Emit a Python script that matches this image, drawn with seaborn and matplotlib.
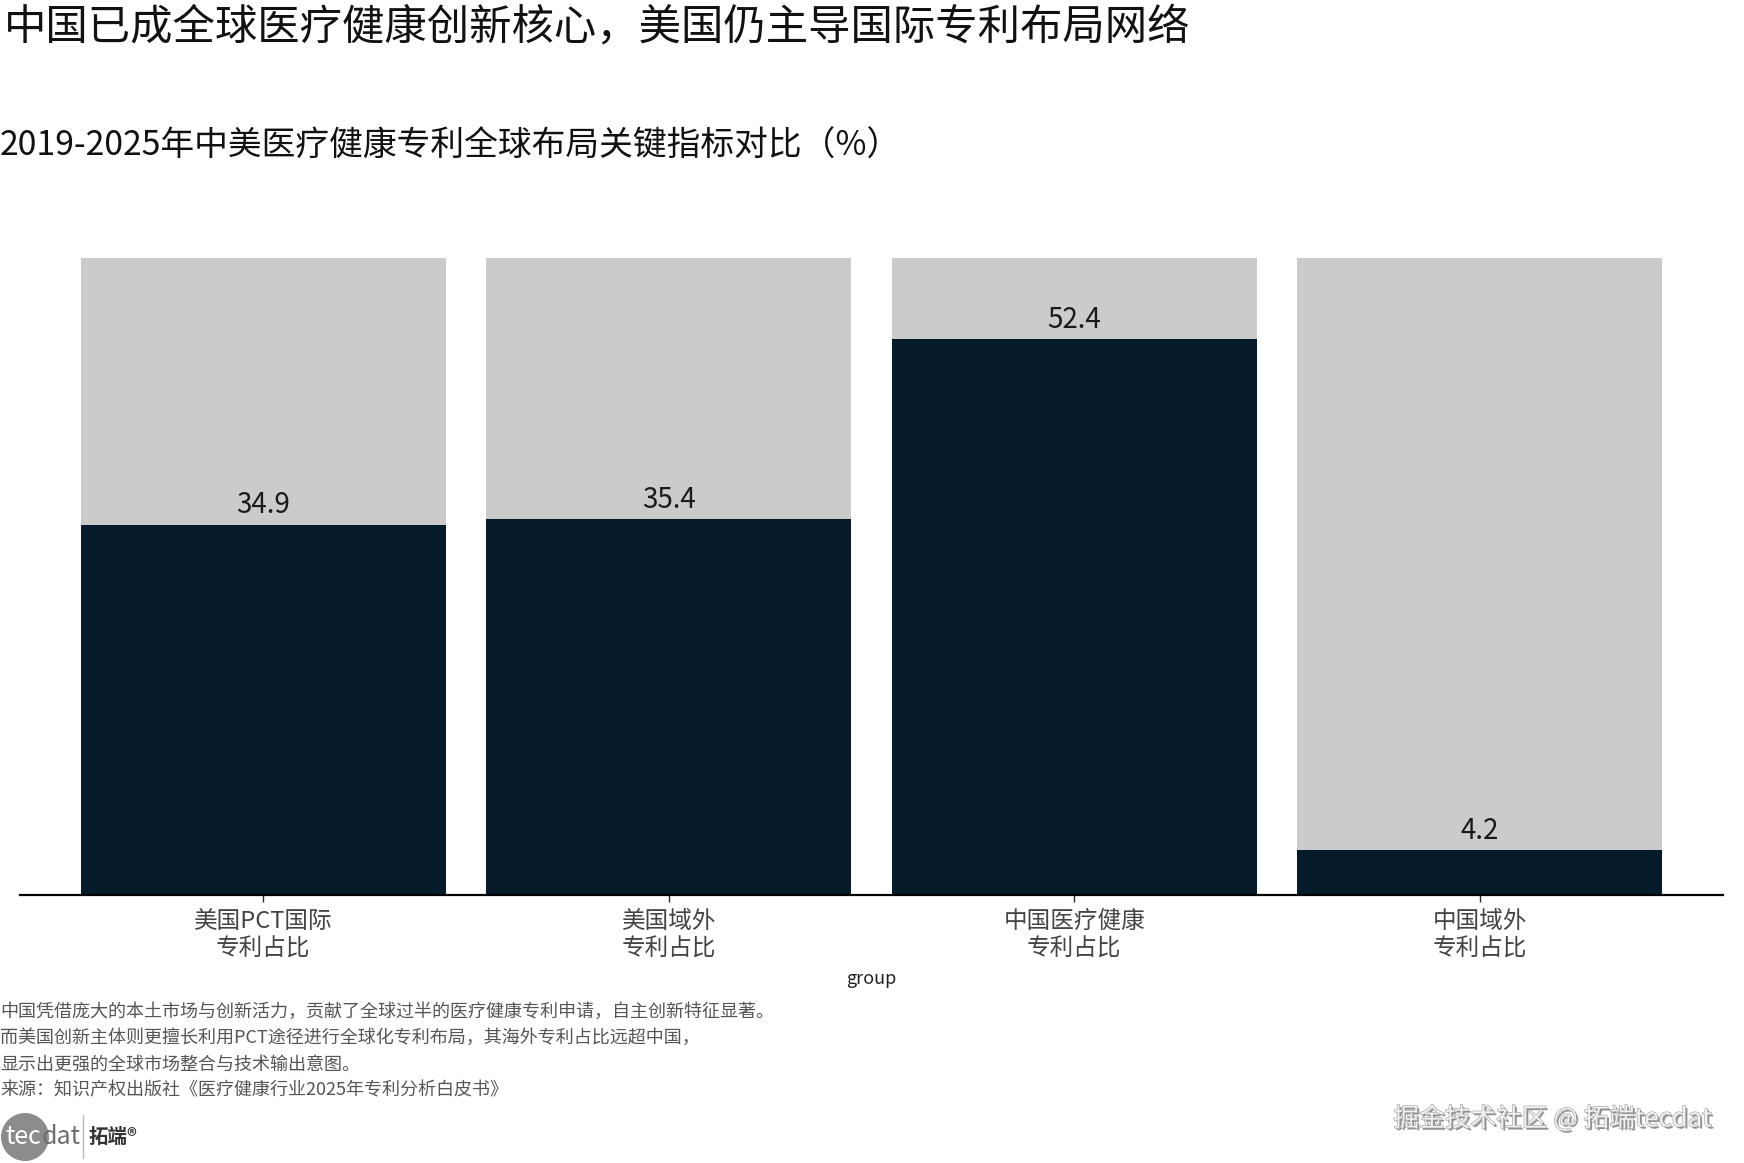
import pandas as pd
import matplotlib.pyplot as plt
import matplotlib.patheffects as pe
from matplotlib.patches import Circle
from matplotlib.transforms import IdentityTransform
import seaborn as sns

# dados
grupos = ['美国PCT国际\n专利占比', '美国域外\n专利占比', '中国医疗健康\n专利占比', '中国域外\n专利占比']
valores = [34.9, 35.4, 52.4, 4.2]
fundo = [60, 60, 60, 60]

titulo = '中国已成全球医疗健康创新核心，美国仍主导国际专利布局网络'
subtitulo = '2019-2025年中美医疗健康专利全球布局关键指标对比（%）'
nota = ('中国凭借庞大的本土市场与创新活力，贡献了全球过半的医疗健康专利申请，自主创新特征显著。\n'
        '而美国创新主体则更擅长利用PCT途径进行全球化专利布局，其海外专利占比远超中国，\n'
        '显示出更强的全球市场整合与技术输出意图。\n'
        '来源：知识产权出版社《医疗健康行业2025年专利分析白皮书》')

sns.set_style('white')
plt.rcParams['font.family'] = ['Noto Sans CJK SC', 'DejaVu Sans']

base = pd.DataFrame({'group': grupos, 'valor': valores, 'fundo': fundo})

fig = plt.figure(figsize=(17.44, 11.63), dpi=100)
ax = fig.add_axes([0.0115, 0.2305, 0.9765, 0.5475])

sns.barplot(data=base, x='group', y='fundo', color='#cbcbcb', width=0.9, saturation=1,
            linewidth=0, ax=ax)
sns.barplot(data=base, x='group', y='valor', color='#061b29', width=0.9, saturation=1,
            linewidth=0, ax=ax)

ax.bar_label(ax.containers[1], fmt='%.1f', padding=3, fontsize=20, color='#1a1a1a')

ax.set_xlim(-0.6, 3.6)
ax.set_ylim(0, 60)
ax.set_yticks([])
ax.set_ylabel('')
sns.despine(ax=ax, left=True)
ax.spines['bottom'].set_linewidth(1.6)
ax.spines['bottom'].set_color('black')
ax.tick_params(axis='x', bottom=True, length=5, width=1, pad=6, labelsize=17, labelcolor='#444444')
for t in ax.get_xticklabels():
    t.set_linespacing(1.25)
ax.set_xlabel('group', fontsize=13, color='#222222')
ax.xaxis.set_label_coords(0.5, -0.118)

fig.text(0.002, 0.976, titulo, fontsize=30.5, va='center', ha='left', color='#111111')
fig.text(0.0, 0.8745, subtitulo, fontsize=24.3, va='center', ha='left', color='#111111')
fig.text(0.0, 0.138, nota, fontsize=13, va='top', ha='left', color='#555555', linespacing=1.6)

# logo
yl = 1163 - 1137
fig.add_artist(Circle((25, yl), 24, transform=IdentityTransform(), facecolor='#8c8c8c', edgecolor='none'))
fig.text(5 / 1744, 1 - 1137 / 1163, 'tec', fontsize=18, color='white', va='center', ha='left')
fig.text(42 / 1744, 1 - 1137 / 1163, 'dat', fontsize=18, color='#6e6e6e', va='center', ha='left')
fig.add_artist(plt.Line2D([83 / 1744, 83 / 1744], [1 - 1115 / 1163, 1 - 1158 / 1163], color='#bbbbbb', lw=1))
fig.text(89 / 1744, 1 - 1137 / 1163, '拓端®', fontsize=14, color='#333333', va='center', ha='left', fontweight='bold')

# marca d'água
fig.text(0.982, 1 - 1119 / 1163, '掘金技术社区 @ 拓端tecdat', fontsize=18.5, color='#f2f2f2',
         va='center', ha='right',
         path_effects=[pe.withSimplePatchShadow(offset=(1.5, -1.5), shadow_rgbFace='#777777', alpha=0.8),
                       pe.Stroke(linewidth=0.8, foreground='#9a9a9a'), pe.Normal()])

fig.savefig('out.png', dpi=100)
